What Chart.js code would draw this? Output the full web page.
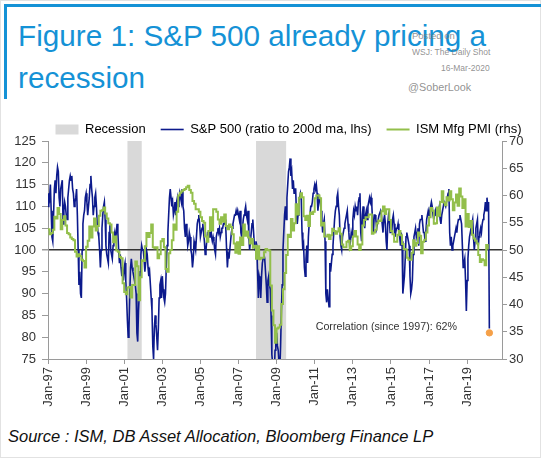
<!DOCTYPE html>
<html>
<head>
<meta charset="utf-8">
<script src="https://cdn.jsdelivr.net/npm/chart.js@4.4.1/dist/chart.umd.min.js"></script>
<style>
  html, body { margin: 0; padding: 0; }
  body {
    width: 541px; height: 458px; position: relative; overflow: hidden;
    background: #fff; font-family: "Liberation Sans", Arial, sans-serif;
  }
  .frame { position: absolute; left: 0; top: 0; width: 541px; height: 458px; box-sizing: border-box; border: 1px solid #e2e2e2; }
  .bar-top { position: absolute; left: 4px; top: 4px; right: 0; height: 3px; background: #1592d6; }
  .bar-left { position: absolute; left: 4px; top: 4px; width: 3px; height: 95px; background: #1592d6; }
  .title { position: absolute; left: 18px; top: 15px; font-size: 29.7px; line-height: 42px; color: #1592d6; white-space: nowrap; }
  .wm { position: absolute; color: rgba(125,125,125,0.85); font-size: 8.5px; white-space: nowrap; }
  #wrap { position: absolute; left: 0; top: 108px; width: 541px; height: 317px; }
  .source { position: absolute; left: 8px; top: 427px; font-style: italic; font-size: 16.5px; color: #111; white-space: nowrap; }
</style>
</head>
<body>
<div class="frame"></div>
<div class="bar-top"></div>
<div class="bar-left"></div>
<div class="title">Figure 1: S&amp;P 500 already pricing a<br>recession</div>
<div class="wm" style="left:412px;top:30px;font-size:9.5px;">Posted on</div>
<div class="wm" style="left:412px;top:47px;">WSJ: The Daily Shot</div>
<div class="wm" style="left:441px;top:63px;">16-Mar-2020</div>
<div class="wm" style="left:408px;top:81px;font-size:10.8px;">@SoberLook</div>
<div id="wrap"><canvas id="chart" width="541" height="317"></canvas></div>
<div class="source">Source : ISM, DB Asset Allocation, Bloomberg Finance LP</div>

<script>
// --- dados ---
const startYear = 1997;

// S&P 500 / média de 200 dias, dois pontos por mês (jan-1997 .. mar-2020)
const spxRatio = [
  110,113, 112,115, 109,103, 102,108, 114,116, 113,117, 119,118, 112,110, 114,115, 116,106, 109,111, 110,108, // 1997
  107,112, 114,116, 117,116, 117,114, 113,110, 111,112, 114,108, 100,92, 95,90, 89,100, 106,108, 109,112,   // 1998
  113,111, 108,110, 112,115, 117,114, 112,108, 110,112, 113,110, 106,104, 103,100, 96,100, 105,108, 110,111, // 1999
  107,101, 99,98, 97,104, 106,100, 99,98, 101,103, 104,102, 104,106, 104,100, 97,99, 96,94, 95,93,           // 2000
  96,97, 93,89, 84,80, 82,90, 96,98, 96,95, 94,93, 92,90, 81,79, 86,90, 95,99, 101,100,                     // 2001
  100,98, 95,97, 100,99, 96,94, 95,92, 89,86, 78,75, 82,85, 83,80, 77,82, 89,92, 93,89,                     // 2002
  94,91, 89,88, 90,96, 101,104, 108,112, 114,112, 110,111, 108,109, 111,108, 111,112, 110,111, 113,112,     // 2003
  111,114, 110,109, 105,103, 106,104, 101,102, 104,103, 100,99, 96,98, 102,101, 100,103, 106,107, 108,106,  // 2004
  103,104, 105,106, 104,102, 99,100, 102,104, 104,103, 105,106, 103,102, 103,102, 100,99, 103,104, 105,104, // 2005
  105,103, 104,105, 105,106, 106,107, 105,100, 96,99, 98,100, 102,104, 105,106, 107,108, 108,109, 108,109,  // 2006
  108,107, 109,104, 103,105, 107,108, 109,110, 108,107, 109,103, 100,102, 104,106, 107,104, 101,100, 102,101, // 2007
  95,89, 94,93, 89,94, 97,98, 99,98, 95,92, 88,93, 94,92, 91,85, 76,74, 73,71, 77,79,                       // 2008
  81,78, 77,74, 72,78, 86,92, 100,104, 108,110, 107,112, 115,118, 119,121, 117,118, 114,116, 113,114,       // 2009
  114,108, 106,108, 111,112, 113,112, 104,100, 101,96, 94,98, 101,97, 103,106, 108,110, 110,111, 113,114,   // 2010
  115,114, 115,113, 109,111, 112,111, 109,107, 104,106, 107,102, 90,88, 91,89, 87,97, 95,97, 99,101,        // 2011
  104,107, 109,110, 112,113, 110,108, 103,101, 100,103, 104,105, 106,107, 108,109, 106,104, 101,102, 104,103, // 2012
  107,109, 108,110, 109,110, 108,111, 112,113, 104,102, 108,110, 107,105, 108,109, 107,110, 111,112, 111,112, // 2013
  110,106, 104,108, 108,107, 105,106, 107,108, 108,109, 108,106, 104,107, 108,106, 102,100, 106,108, 107,104, // 2014
  106,104, 107,108, 106,103, 104,105, 105,106, 104,103, 101,104, 102,90, 92,94, 98,103, 104,103, 102,101,   // 2015
  94,90, 91,93, 99,103, 104,105, 103,104, 105,101, 106,107, 107,108, 106,104, 104,102, 104,107, 108,109,    // 2016
  108,109, 110,111, 110,108, 107,108, 109,108, 109,108, 109,110, 107,106, 108,109, 110,111, 111,110, 111,112, // 2017
  113,114, 104,101, 103,100, 101,102, 103,104, 105,104, 106,107, 107,108, 107,106, 101,96, 97,98, 93,86,    // 2018
  93,98, 101,103, 104,105, 106,107, 103,100, 102,105, 106,107, 101,103, 104,105, 104,106, 107,108, 109,111, // 2019
  109,112, 110,111, 82                                                                                       // 2020
];

// ISM Manufacturing PMI, mensal (jan-1997 .. fev-2020)
const ismPmi = [
  53.8, 52.9, 53.1, 53.7, 56.1, 55.8, 57.7, 56.6, 53.8, 55.5, 56.2, 54.5, // 1997
  53.1, 52.9, 52.3, 52.0, 51.8, 49.7, 48.8, 49.2, 48.9, 48.2, 48.0, 46.8, // 1998
  50.6, 51.7, 54.3, 52.3, 54.3, 55.8, 53.6, 54.4, 56.3, 57.2, 57.3, 57.8, // 1999
  56.7, 55.8, 54.9, 54.7, 53.2, 51.4, 52.5, 49.9, 49.7, 48.7, 48.5, 43.9, // 2000
  42.3, 41.9, 43.1, 43.2, 41.3, 43.6, 43.6, 47.9, 47.0, 40.8, 45.0, 48.1, // 2001
  48.0, 50.7, 53.1, 52.4, 53.1, 54.7, 50.5, 50.3, 50.5, 48.5, 49.2, 51.6, // 2002
  52.0, 50.5, 46.5, 46.0, 49.4, 50.0, 51.8, 54.7, 53.7, 57.0, 60.0, 60.5, // 2003
  60.8, 61.0, 61.2, 61.5, 61.8, 61.0, 60.5, 59.0, 58.5, 57.5, 57.5, 57.0, // 2004
  56.0, 55.3, 55.0, 52.5, 51.5, 53.5, 56.0, 53.6, 57.5, 57.5, 57.0, 55.6, // 2005
  54.8, 56.0, 55.2, 56.5, 54.4, 53.8, 54.7, 54.2, 52.9, 51.2, 49.5, 51.4, // 2006
  49.3, 52.3, 50.9, 54.7, 52.6, 53.4, 52.3, 51.2, 52.0, 50.4, 50.8, 48.4, // 2007
  50.7, 48.3, 48.6, 48.6, 49.6, 50.2, 50.0, 49.9, 43.5, 38.9, 36.2, 33.0, // 2008
  35.6, 35.8, 36.3, 40.1, 42.8, 45.8, 49.1, 52.8, 52.4, 55.7, 53.6, 54.9, // 2009
  58.4, 56.5, 59.6, 60.4, 59.7, 56.2, 55.5, 56.3, 54.4, 56.9, 56.6, 57.0, // 2010
  59.5, 60.0, 60.0, 59.5, 54.5, 55.0, 52.5, 52.5, 52.8, 52.0, 52.7, 53.9, // 2011
  53.5, 53.0, 53.4, 54.0, 53.0, 51.0, 50.5, 50.5, 51.5, 51.7, 50.0, 50.7, // 2012
  52.5, 53.5, 52.5, 51.0, 50.0, 51.0, 54.5, 55.5, 56.0, 56.0, 56.5, 56.5, // 2013
  53.0, 53.2, 53.7, 54.9, 55.4, 55.3, 57.1, 58.0, 56.6, 57.5, 57.5, 55.5, // 2014
  53.5, 52.9, 51.5, 51.5, 52.8, 53.5, 52.7, 51.1, 50.2, 50.1, 48.6, 48.2, // 2015
  48.2, 49.5, 51.8, 50.8, 51.3, 53.2, 52.6, 49.4, 51.5, 51.9, 53.2, 54.5, // 2016
  56.0, 57.7, 57.2, 54.8, 54.9, 57.8, 56.3, 58.8, 60.8, 58.7, 58.2, 59.7, // 2017
  59.1, 60.8, 59.3, 57.3, 58.7, 60.2, 58.1, 61.3, 59.8, 57.7, 59.3, 54.3, // 2018
  56.6, 54.2, 55.3, 52.8, 52.1, 51.7, 51.2, 49.1, 47.8, 48.3, 48.1, 47.2, // 2019
  50.9, 50.1                                                              // 2020
];

// ponto laranja: PMI implícito pela queda de março/2020
const impliedPmi = [{ x: 2020.167, y: 34.8 }];

// recessões (NBER), em anos decimais
const recessions = [[2001.17, 2001.92], [2007.92, 2009.5]];

// rótulos do eixo x
const tickYears = [1997, 1999, 2001, 2003, 2005, 2007, 2009, 2011, 2013, 2015, 2017, 2019];

const corrNote = { text: 'Correlation (since 1997): 62%', x: 2011.05, y: 82.3 };

// --- cores ---
const navy = '#0c1a8c';
const green = '#93bf4b';
const recessionGray = '#d9d9d9';
const axisGray = '#9a9a9a';
const textColor = '#333';

// altura fixa da legenda e deslocamento horizontal
const legendHeight = 33;
const legendShift = 18;

// sombreamento das recessões, antes de tudo
const recessionShade = {
  id: 'recessionShade',
  beforeDraw(chart) {
    const { ctx, chartArea, scales } = chart;
    ctx.save();
    ctx.fillStyle = recessionGray;
    recessions.forEach(([s, e]) => {
      const x0 = scales.x.getPixelForValue(s);
      const x1 = scales.x.getPixelForValue(e);
      ctx.fillRect(x0, chartArea.top, x1 - x0, chartArea.bottom - chartArea.top);
    });
    ctx.restore();
  }
};

// legenda: altura fixa e deslocada para a direita
const legendBox = {
  id: 'legendBox',
  afterInit(chart) {
    const legend = chart.legend;
    const fit = legend.fit.bind(legend);
    legend.fit = function () { fit(); this.height = legendHeight; };
  },
  afterLayout(chart) {
    chart.legend.left += legendShift;
    chart.legend.right += legendShift;
  }
};

// nota da correlação
const corrLabel = {
  id: 'corrLabel',
  afterDatasetsDraw(chart) {
    const { ctx, scales } = chart;
    ctx.save();
    ctx.font = '10.7px "Liberation Sans", Arial, sans-serif';
    ctx.fillStyle = textColor;
    ctx.textBaseline = 'middle';
    ctx.fillText(corrNote.text, scales.x.getPixelForValue(corrNote.x), scales.y.getPixelForValue(corrNote.y));
    ctx.restore();
  }
};

const tickFont = { family: '"Liberation Sans", Arial, sans-serif', size: 13 };

new Chart(document.getElementById('chart'), {
  type: 'line',
  data: {
    datasets: [
      {
        label: 'S&P 500 (ratio to 200d ma, lhs)',
        data: spxRatio.map((v, i) => ({ x: startYear + i / 24, y: v })),
        borderColor: navy, borderWidth: 1.6, pointRadius: 0, tension: 0,
        yAxisID: 'y', order: 2
      },
      {
        label: 'ISM Mfg PMI (rhs)',
        data: ismPmi.map((v, i) => ({ x: startYear + i / 12, y: v })),
        borderColor: green, borderWidth: 2, pointRadius: 0, stepped: true,
        yAxisID: 'y1', order: 1
      },
      {
        label: 'implied',
        type: 'scatter',
        data: impliedPmi,
        backgroundColor: '#f5a048', borderColor: '#f5a048',
        pointRadius: 3.2, yAxisID: 'y1', order: 0
      }
    ]
  },
  options: {
    responsive: false,
    devicePixelRatio: 1,
    animation: false,
    layout: { padding: 0 },
    plugins: {
      tooltip: { enabled: false },
      legend: {
        position: 'top',
        labels: {
          usePointStyle: true,
          pointStyleWidth: 23,
          boxHeight: 10,
          padding: 15,
          color: '#222',
          font: tickFont,
          generateLabels: () => [
            { text: 'Recession', fillStyle: recessionGray, strokeStyle: recessionGray, lineWidth: 0, pointStyle: 'rect', hidden: false },
            { text: 'S&P 500 (ratio to 200d ma, lhs)', fillStyle: navy, strokeStyle: navy, lineWidth: 1.6, pointStyle: 'line', hidden: false, datasetIndex: 0 },
            { text: 'ISM Mfg PMI (rhs)', fillStyle: green, strokeStyle: green, lineWidth: 2, pointStyle: 'line', hidden: false, datasetIndex: 1 }
          ]
        }
      }
    },
    scales: {
      x: {
        type: 'linear',
        min: 1997,
        max: 2020.83,
        afterBuildTicks: (s) => { s.ticks = tickYears.map(v => ({ value: v })); },
        afterFit: (s) => { s.height = 66; },
        ticks: {
          autoSkip: false, maxRotation: 90, minRotation: 90,
          padding: 3, color: textColor, font: tickFont,
          callback: (v) => 'Jan-' + String(v).slice(2)
        },
        grid: { drawOnChartArea: false, drawTicks: true, tickLength: 5, tickColor: axisGray },
        border: { color: axisGray }
      },
      y: {
        position: 'left',
        min: 75, max: 125,
        afterFit: (s) => { s.width = 48; },
        ticks: { stepSize: 5, padding: 6, color: textColor, font: tickFont },
        grid: {
          drawOnChartArea: true,
          color: (c) => (c.tick && c.tick.value === 100 ? '#333' : 'rgba(0,0,0,0)'),
          lineWidth: (c) => (c.tick && c.tick.value === 100 ? 1.5 : 1),
          tickColor: axisGray, tickLength: 6
        },
        border: { color: axisGray }
      },
      y1: {
        position: 'right',
        min: 30, max: 70,
        afterFit: (s) => { s.width = 39; },
        ticks: { stepSize: 5, padding: 2, color: textColor, font: tickFont },
        grid: { drawOnChartArea: false, tickColor: axisGray, tickLength: 5 },
        border: { color: axisGray }
      }
    }
  },
  plugins: [recessionShade, legendBox, corrLabel]
});
</script>
</body>
</html>
